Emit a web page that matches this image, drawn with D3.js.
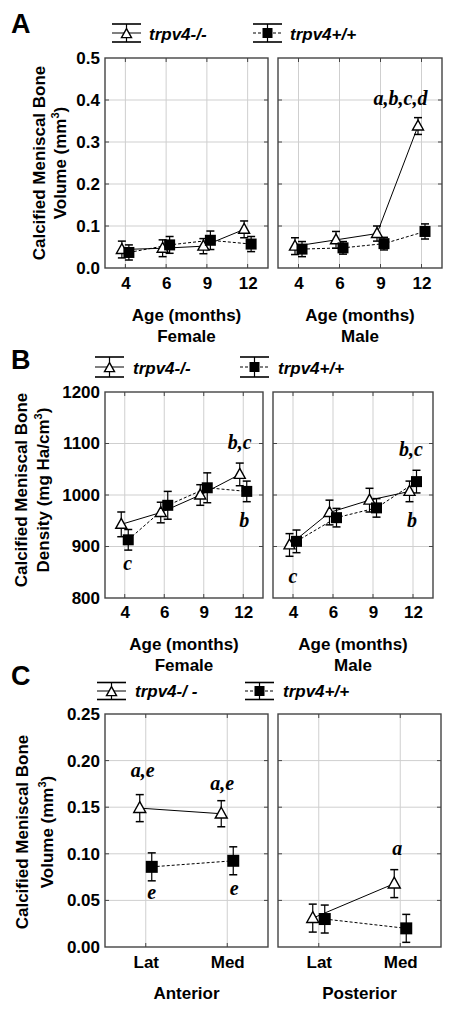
<!DOCTYPE html>
<html><head><meta charset="utf-8">
<script src="https://cdn.jsdelivr.net/npm/d3@7"></script>
<style>body{margin:0;background:#fff} svg{display:block}</style>
</head><body>
<svg id="c" width="454" height="1013"></svg>
<script>
// ---------- DATA ----------
const ages = ["4", "6", "9", "12"];
const regions = ["Lat", "Med"];
const volTicks = [0.0, 0.1, 0.2, 0.3, 0.4, 0.5];
const denTicks = [800, 900, 1000, 1100, 1200];
const regTicks = [0.00, 0.05, 0.10, 0.15, 0.20, 0.25];

// Panel A: calcified meniscal bone volume (mm^3)
const volFemaleKO = [0.044, 0.047, 0.052, 0.092];
const volFemaleKOErr = [0.020, 0.020, 0.018, 0.020];
const volFemaleWT = [0.037, 0.055, 0.066, 0.057];
const volFemaleWTErr = [0.018, 0.020, 0.022, 0.018];
const volMaleKO = [0.052, 0.067, 0.082, 0.338];
const volMaleKOErr = [0.020, 0.020, 0.018, 0.020];
const volMaleWT = [0.045, 0.048, 0.058, 0.087];
const volMaleWTErr = [0.018, 0.015, 0.015, 0.018];

// Panel B: calcified meniscal bone density (mg HA/cm^3)
const denFemaleKO = [943, 966, 1000, 1040];
const denFemaleKOErr = [24, 20, 20, 22];
const denFemaleWT = [913, 980, 1014, 1007];
const denFemaleWTErr = [20, 27, 29, 20];
const denMaleKO = [903, 966, 990, 1007];
const denMaleKOErr = [22, 24, 23, 20];
const denMaleWT = [910, 956, 975, 1026];
const denMaleWTErr = [22, 18, 18, 22];

// Panel C: volume by region
const antKO = [0.149, 0.143];
const antKOErr = [0.0145, 0.014];
const antWT = [0.086, 0.0925];
const antWTErr = [0.015, 0.015];
const postKO = [0.031, 0.068];
const postKOErr = [0.015, 0.015];
const postWT = [0.030, 0.020];
const postWTErr = [0.015, 0.015];

// significance letters: [category, value-position, text]
const notesAMale = [["12", 0.388, "a,b,c,d"]];
const notesBFemale = [["12", 1089, "b,c"], ["12", 938, "b"], ["4", 854, "c"]];
const notesBMale = [["12", 1076, "b,c"], ["12", 938, "b"], ["4", 829, "c"]];
const notesCAnt = [["Lat", 0.1824, "a,e"], ["Med", 0.1685, "a,e"], ["Lat", 0.0515, "e"], ["Med", 0.0558, "e"]];
const notesCPost = [["Med", 0.0987, "a"]];

// ---------- DRAWING ----------
const svg = d3.select("#c");
const SANS = "'Liberation Sans', Arial, Helvetica, sans-serif";
const SERIF = "'Liberation Serif', 'Times New Roman', serif";

function tri(cx, cy, s) {
  const h = s * 0.9;
  return `M${cx},${cy - h * 0.6}L${cx + s / 2},${cy + h * 0.4}L${cx - s / 2},${cy + h * 0.4}Z`;
}

function panel(p) {
  const x = d3.scalePoint().domain(p.cats).range([p.x0, p.x1]).padding(0.5);
  const y = d3.scaleLinear().domain(p.domain).range([p.y1, p.y0]);
  const g = svg.append("g");
  // grid
  g.selectAll(null).data(p.ticks.slice(1, -1)).join("line")
    .attr("x1", p.x0).attr("x2", p.x1).attr("y1", d => y(d)).attr("y2", d => y(d))
    .attr("stroke", "#cfcfcf").attr("stroke-width", 1);
  g.selectAll(null).data(p.cats).join("line")
    .attr("y1", p.y0).attr("y2", p.y1).attr("x1", d => x(d)).attr("x2", d => x(d))
    .attr("stroke", "#cfcfcf").attr("stroke-width", 1);
  // inner ticks
  const tk = 4;
  p.ticks.slice(1, -1).forEach(v => {
    g.append("line").attr("x1", p.x0).attr("x2", p.x0 + tk).attr("y1", y(v)).attr("y2", y(v)).attr("stroke", "#444");
    g.append("line").attr("x1", p.x1).attr("x2", p.x1 - tk).attr("y1", y(v)).attr("y2", y(v)).attr("stroke", "#444");
  });
  p.cats.forEach(c => {
    g.append("line").attr("x1", x(c)).attr("x2", x(c)).attr("y1", p.y1).attr("y2", p.y1 - tk).attr("stroke", "#444");
    g.append("line").attr("x1", x(c)).attr("x2", x(c)).attr("y1", p.y0).attr("y2", p.y0 + tk).attr("stroke", "#444");
  });
  // frame
  g.append("rect").attr("x", p.x0).attr("y", p.y0).attr("width", p.x1 - p.x0).attr("height", p.y1 - p.y0)
    .attr("fill", "none").attr("stroke", "#444").attr("stroke-width", 1.4);

  // y axis labels
  if (p.yLabels) {
    const ya = g.append("g").attr("transform", `translate(${p.x0 - 5},0)`)
      .call(d3.axisLeft(y).tickValues(p.ticks).tickFormat(d3.format(p.fmt)).tickSize(0).tickPadding(0));
    ya.select(".domain").remove();
    ya.selectAll("text").attr("font-family", SANS).attr("font-size", 17).attr("font-weight", "bold").attr("fill", "#000");
  }
  // x axis labels
  const xa = g.append("g").attr("transform", `translate(0,${p.y1})`)
    .call(d3.axisBottom(x).tickSize(0).tickPadding(p.xPad));
  xa.select(".domain").remove();
  xa.selectAll("text").attr("font-family", SANS).attr("font-size", 17).attr("font-weight", "bold").attr("fill", "#000");

  const cx = (p.x0 + p.x1) / 2;
  p.sub.forEach((t, i) => {
    g.append("text").attr("x", cx).attr("y", p.subY[i]).attr("text-anchor", "middle")
      .attr("font-family", SANS).attr("font-size", 17).attr("font-weight", "bold").text(t);
  });

  const off = p.off;
  // lines
  const lineKO = d3.line().x((d, i) => x(p.cats[i]) - off).y(d => y(d));
  const lineWT = d3.line().x((d, i) => x(p.cats[i]) + off).y(d => y(d));
  g.append("path").attr("d", lineWT(p.wt)).attr("fill", "none").attr("stroke", "#000").attr("stroke-width", 1).attr("stroke-dasharray", "3,2");
  g.append("path").attr("d", lineKO(p.ko)).attr("fill", "none").attr("stroke", "#000").attr("stroke-width", 1);

  const cap = 4;
  function errs(vals, e, dx) {
    vals.forEach((v, i) => {
      const xx = x(p.cats[i]) + dx;
      g.append("line").attr("x1", xx).attr("x2", xx).attr("y1", y(v + e[i])).attr("y2", y(v - e[i])).attr("stroke", "#000").attr("stroke-width", 1.2);
      [v + e[i], v - e[i]].forEach(t => g.append("line").attr("x1", xx - cap).attr("x2", xx + cap).attr("y1", y(t)).attr("y2", y(t)).attr("stroke", "#000").attr("stroke-width", 1.5));
    });
  }
  errs(p.ko, p.koErr, -off);
  errs(p.wt, p.wtErr, off);
  const ms = p.ms;
  p.ko.forEach((v, i) => {
    g.append("path").attr("d", tri(x(p.cats[i]) - off, y(v), ms)).attr("fill", "#fff").attr("stroke", "#000").attr("stroke-width", 1.4);
  });
  p.wt.forEach((v, i) => {
    g.append("rect").attr("x", x(p.cats[i]) + off - ms / 2).attr("y", y(v) - ms / 2).attr("width", ms).attr("height", ms).attr("fill", "#000");
  });
  // notes
  (p.notes || []).forEach(n => {
    g.append("text").attr("x", x(n[0]) + (n[3] || 0)).attr("y", y(n[1])).attr("text-anchor", "middle")
      .attr("font-family", SERIF).attr("font-style", "italic").attr("font-weight", "bold").attr("font-size", 20).text(n[2]);
  });
}

function yTitle(cx1, cx2, cy, line2, sup) {
  const t1 = svg.append("text").attr("transform", `translate(${cx1},${cy}) rotate(-90)`).attr("text-anchor", "middle")
    .attr("font-family", SANS).attr("font-size", 17).attr("font-weight", "bold").text("Calcified Meniscal Bone");
  const t2 = svg.append("text").attr("transform", `translate(${cx2},${cy}) rotate(-90)`).attr("text-anchor", "middle")
    .attr("font-family", SANS).attr("font-size", 17).attr("font-weight", "bold");
  t2.append("tspan").text(line2);
  t2.append("tspan").attr("dy", -7).attr("font-size", 11).text("3");
  t2.append("tspan").attr("dy", 7).text(sup);
}

function legend(xs, midY, hh, xt, baseY, label, type) {
  const g = svg.append("g");
  const w = 29, x0 = xs, x1 = xs + w, cx = xs + w / 2;
  g.append("line").attr("x1", x0).attr("x2", x1).attr("y1", midY - hh).attr("y2", midY - hh).attr("stroke", "#000").attr("stroke-width", 1.6);
  g.append("line").attr("x1", x0).attr("x2", x1).attr("y1", midY + hh).attr("y2", midY + hh).attr("stroke", "#000").attr("stroke-width", 1.6);
  g.append("line").attr("x1", x0).attr("x2", x1).attr("y1", midY).attr("y2", midY).attr("stroke", "#000").attr("stroke-width", 1)
    .attr("stroke-dasharray", type === "wt" ? "3,2" : null);
  g.append("line").attr("x1", cx).attr("x2", cx).attr("y1", midY - hh).attr("y2", midY + hh).attr("stroke", "#000").attr("stroke-width", 1.2);
  if (type === "ko") g.append("path").attr("d", tri(cx, midY + 1, 10)).attr("fill", "#fff").attr("stroke", "#000").attr("stroke-width", 1.4);
  else g.append("rect").attr("x", cx - 5).attr("y", midY - 5).attr("width", 10).attr("height", 10).attr("fill", "#000");
  g.append("text").attr("x", xt).attr("y", baseY).attr("font-family", SANS).attr("font-size", 17)
    .attr("font-weight", "bold").attr("font-style", "italic").text(label);
}

function letter(t, yb) {
  svg.append("text").attr("x", 11).attr("y", yb).attr("font-family", SANS).attr("font-size", 27).attr("font-weight", "bold").text(t);
}

// ----- Panel A -----
letter("A", 33);
legend(112, 33, 9, 149, 40, "trpv4-/-", "ko");
legend(253, 33, 9, 290, 40, "trpv4+/+", "wt");
yTitle(45, 66, 163, "Volume (mm", ")");
panel({x0: 105, x1: 268, y0: 58, y1: 268, cats: ages, domain: [0, 0.5], ticks: volTicks, fmt: ".1f", yLabels: true, xPad: 9,
  sub: ["Age (months)", "Female"], subY: [321, 342], ko: volFemaleKO, koErr: volFemaleKOErr, wt: volFemaleWT, wtErr: volFemaleWTErr, off: 3.5, ms: 11});
panel({x0: 278, x1: 442, y0: 58, y1: 268, cats: ages, domain: [0, 0.5], ticks: volTicks, fmt: ".1f", yLabels: false, xPad: 9,
  sub: ["Age (months)", "Male"], subY: [321, 342], ko: volMaleKO, koErr: volMaleKOErr, wt: volMaleWT, wtErr: volMaleWTErr, off: 3.5, ms: 11,
  notes: notesAMale.map(n => n.concat([-21]))});

// ----- Panel B -----
letter("B", 369);
legend(95, 367, 10, 133, 374, "trpv4-/-", "ko");
legend(240, 367, 10, 278, 374, "trpv4+/+", "wt");
yTitle(27, 49, 490, "Density (mg Ha/cm", ")");
panel({x0: 105, x1: 263, y0: 392, y1: 598, cats: ages, domain: [800, 1200], ticks: denTicks, fmt: "d", yLabels: true, xPad: 8,
  sub: ["Age (months)", "Female"], subY: [650, 671], ko: denFemaleKO, koErr: denFemaleKOErr, wt: denFemaleWT, wtErr: denFemaleWTErr, off: 3.5, ms: 11,
  notes: notesBFemale.map((n, i) => n.concat([[-3.5, 1, 3][i]]))});
panel({x0: 273, x1: 433, y0: 392, y1: 598, cats: ages, domain: [800, 1200], ticks: denTicks, fmt: "d", yLabels: false, xPad: 8,
  sub: ["Age (months)", "Male"], subY: [650, 671], ko: denMaleKO, koErr: denMaleKOErr, wt: denMaleWT, wtErr: denMaleWTErr, off: 3.5, ms: 11,
  notes: notesBMale.map((n, i) => n.concat([[-2, -1, 0][i]]))});

// ----- Panel C -----
letter("C", 685);
legend(97, 691, 8.5, 135, 697, "trpv4-/ -", "ko");
legend(245, 691, 8.5, 283, 697, "trpv4+/+", "wt");
yTitle(28, 53, 832, "Volume (mm", ")");
panel({x0: 105, x1: 268, y0: 714, y1: 947, cats: regions, domain: [0, 0.25], ticks: regTicks, fmt: ".2f", yLabels: true, xPad: 9,
  sub: ["Anterior"], subY: [999], ko: antKO, koErr: antKOErr, wt: antWT, wtErr: antWTErr, off: 6, ms: 12,
  notes: notesCAnt.map((n, i) => n.concat([[-3, -5, 6, 7][i]]))});
panel({x0: 278, x1: 441, y0: 714, y1: 947, cats: regions, domain: [0, 0.25], ticks: regTicks, fmt: ".2f", yLabels: false, xPad: 9,
  sub: ["Posterior"], subY: [999], ko: postKO, koErr: postKOErr, wt: postWT, wtErr: postWTErr, off: 6, ms: 12,
  notes: notesCPost.map(n => n.concat([-3]))});
</script>
</body></html>
